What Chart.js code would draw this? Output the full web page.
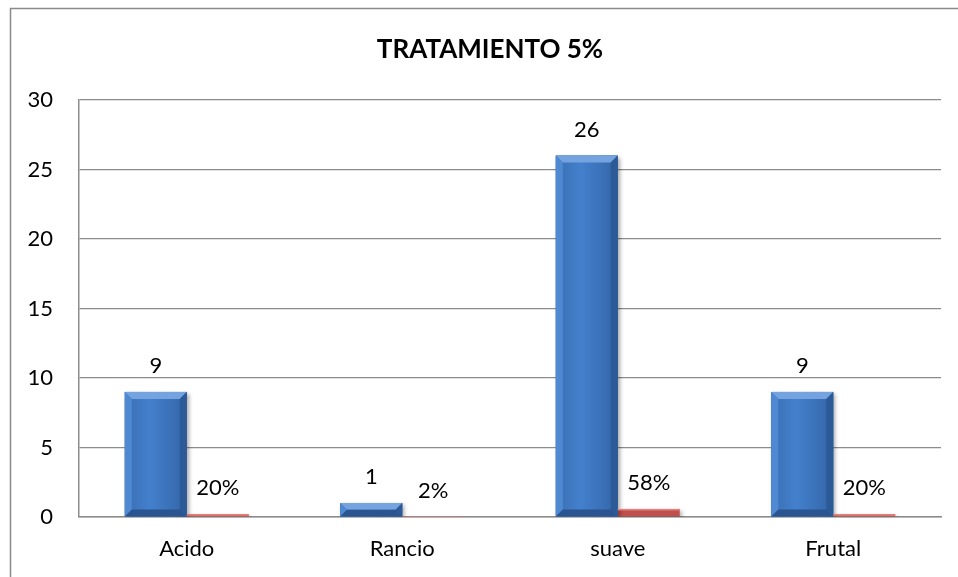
<!DOCTYPE html>
<html>
<head>
<meta charset="utf-8">
<title>TRATAMIENTO 5%</title>
<script src="https://cdn.jsdelivr.net/npm/chart.js@4.4.1/dist/chart.umd.min.js"></script>
<style>
  html, body { margin: 0; padding: 0; background: #fff; }
  #wrap { width: 958px; height: 577px; position: relative; }
</style>
</head>
<body>
<div id="wrap"><canvas id="chart" width="958" height="577"></canvas></div>
<script>
// Chart data
const categories = ["Acido", "Rancio", "suave", "Frutal"];
const counts = [9, 1, 26, 9];
const shares = [0.20, 0.02, 0.58, 0.20];
const yMax = 30;
const yStep = 5;
const chartTitle = "TRATAMIENTO 5%";

const FONT = "Lato, 'Open Sans', sans-serif";
const GRID = "#8c8c8c";

// outer frame + title
const framePlugin = {
  id: "frame",
  beforeDraw(chart) {
    const c = chart.ctx;
    c.save();
    c.fillStyle = "#fff";
    c.fillRect(0, 0, chart.width, chart.height);
    c.strokeStyle = "#8a8a8a";
    c.lineWidth = 1.5;
    c.strokeRect(10.5, 8.5, chart.width + 50, chart.height + 50);
    c.fillStyle = "#000";
    c.font = "bold 26px " + FONT;
    c.textAlign = "center";
    c.textBaseline = "middle";
    c.fillText(chartTitle, 490, 50);
    c.restore();
  }
};

// soft drop shadow under the bars
const shadowPlugin = {
  id: "barShadow",
  beforeDatasetDraw(chart) {
    const c = chart.ctx;
    c.save();
    c.shadowColor = "rgba(0,0,0,0.35)";
    c.shadowBlur = 4;
    c.shadowOffsetX = 2;
    c.shadowOffsetY = 2;
  },
  afterDatasetDraw(chart) {
    chart.ctx.restore();
  }
};

// bevelled look on top of the plain bars
const bevelPlugin = {
  id: "bevel",
  afterDatasetsDraw(chart) {
    const c = chart.ctx;
    chart.getDatasetMeta(0).data.forEach(bar => {
      const p = bar.getProps(["x", "y", "base", "width"], true);
      const l = p.x - p.width / 2, r = p.x + p.width / 2;
      const t = p.y, b = p.base;
      const h = b - t;
      const bv = Math.min(7, h / 2);
      c.save();
      const g = c.createLinearGradient(l, 0, r, 0);
      g.addColorStop(0, "#3b6fb3");
      g.addColorStop(0.4, "#4380cc");
      g.addColorStop(1, "#3465a8");
      c.fillStyle = g;
      c.fillRect(l, t, r - l, h);
      // top
      c.fillStyle = "#74a3e0";
      c.beginPath();
      c.moveTo(l, t); c.lineTo(r, t); c.lineTo(r - bv, t + bv); c.lineTo(l + bv, t + bv);
      c.closePath(); c.fill();
      // left
      c.fillStyle = "#4f89d2";
      c.beginPath();
      c.moveTo(l, t); c.lineTo(l + bv, t + bv); c.lineTo(l + bv, b - bv); c.lineTo(l, b);
      c.closePath(); c.fill();
      // right
      c.fillStyle = "#2c5a96";
      c.beginPath();
      c.moveTo(r, t); c.lineTo(r - bv, t + bv); c.lineTo(r - bv, b - bv); c.lineTo(r, b);
      c.closePath(); c.fill();
      // bottom
      c.fillStyle = "#2a5590";
      c.beginPath();
      c.moveTo(l, b); c.lineTo(l + bv, b - bv); c.lineTo(r - bv, b - bv); c.lineTo(r, b);
      c.closePath(); c.fill();
      c.restore();
    });
    chart.getDatasetMeta(1).data.forEach(bar => {
      const p = bar.getProps(["x", "y", "base", "width"], true);
      const l = p.x - p.width / 2;
      c.save();
      c.fillStyle = "#e8817e";
      c.fillRect(l, p.y, p.width, Math.min(1.5, p.base - p.y));
      c.restore();
    });
  }
};

// value labels above each bar
const labelPlugin = {
  id: "valueLabels",
  afterDraw(chart) {
    const c = chart.ctx;
    c.save();
    c.fillStyle = "#000";
    c.font = "22px " + FONT;
    c.textAlign = "center";
    c.textBaseline = "middle";
    chart.data.datasets.forEach((ds, i) => {
      chart.getDatasetMeta(i).data.forEach((bar, j) => {
        const v = ds.data[j];
        const txt = i === 0 ? String(v) : Math.round(v * 100) + "%";
        c.fillText(txt, bar.x, bar.y - 26);
      });
    });
    c.restore();
  }
};

new Chart(document.getElementById("chart"), {
  type: "bar",
  data: {
    labels: categories,
    datasets: [
      {
        label: "Frecuencia",
        data: counts,
        backgroundColor: "#4079c2",
        borderWidth: 0
      },
      {
        label: "Porcentaje",
        data: shares,
        backgroundColor: "#c0504d",
        borderWidth: 0
      }
    ]
  },
  options: {
    responsive: false,
    animation: false,
    events: [],
    barPercentage: 1,
    categoryPercentage: 0.575,
    layout: { padding: { left: 0, top: 100, right: 17, bottom: 0 } },
    plugins: {
      legend: { display: false },
      title: { display: false },
      tooltip: { enabled: false }
    },
    scales: {
      x: {
        grid: { display: false, drawTicks: false },
        border: { color: GRID, width: 1.5 },
        ticks: { color: "#000", font: { family: FONT, size: 22 }, padding: 19 },
        afterFit(scale) { scale.height = 60; }
      },
      y: {
        min: 0,
        max: yMax,
        ticks: { stepSize: yStep, color: "#000", font: { family: FONT, size: 22 }, padding: 26 },
        grid: { color: GRID, lineWidth: 1.25, drawTicks: false },
        border: { color: GRID, width: 1.5 },
        afterFit(scale) { scale.width = 79; }
      }
    }
  },
  plugins: [framePlugin, shadowPlugin, bevelPlugin, labelPlugin]
});
</script>
</body>
</html>
